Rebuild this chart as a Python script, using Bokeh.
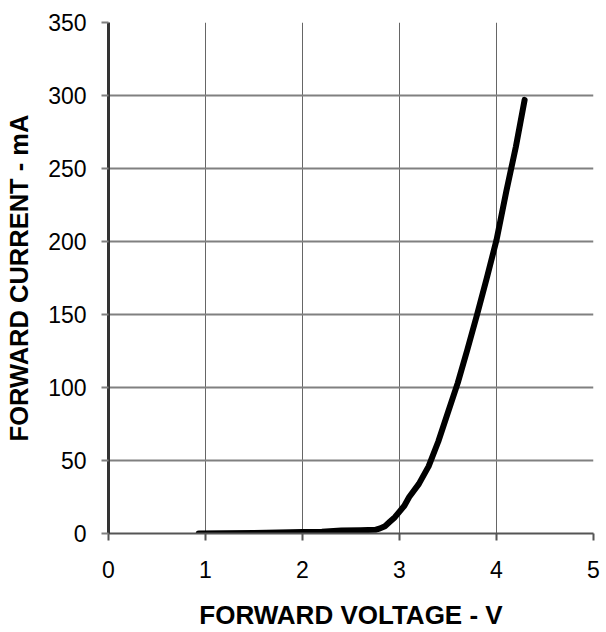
from bokeh.plotting import figure
from bokeh.models import FixedTicker, Range1d
from bokeh.embed import file_html
from bokeh.resources import INLINE

voltage = [0.93, 1.2, 1.5, 2.0, 2.2, 2.4, 2.6, 2.75, 2.8, 2.85, 2.9, 2.95, 3.0, 3.05, 3.1,
           3.2, 3.3, 3.4, 3.5, 3.6, 3.7, 3.8, 3.9, 4.0, 4.1, 4.2, 4.29]
current = [0.0, 0.2, 0.4, 1.0, 1.2, 2.0, 2.3, 2.5, 3.5, 5, 8, 11, 15, 19, 25,
           34, 46, 63, 83, 103, 126, 150, 175, 201, 234, 265, 297]
x_ticks = [0, 1, 2, 3, 4, 5]
y_ticks = [0, 50, 100, 150, 200, 250, 300, 350]

FONT = "Liberation Sans"

p = figure(width=604, height=632, output_backend="svg", toolbar_location=None,
           x_range=Range1d(0, 5), y_range=Range1d(0, 350),
           min_border_left=108, min_border_right=11, min_border_top=22, min_border_bottom=99)
p.outline_line_color = None
p.background_fill_color = "white"

p.line(voltage, current, line_width=6, line_color="black", line_cap="round", line_join="round")

p.xaxis.ticker = FixedTicker(ticks=x_ticks)
p.yaxis.ticker = FixedTicker(ticks=y_ticks)
p.xgrid.ticker = FixedTicker(ticks=x_ticks)
p.ygrid.ticker = FixedTicker(ticks=y_ticks)

p.xgrid.grid_line_color = "#666666"
p.xgrid.grid_line_width = 1
p.ygrid.grid_line_color = "#808080"
p.ygrid.grid_line_width = 2

for ax in (p.xaxis, p.yaxis):
    ax.minor_tick_line_color = None
    ax.major_tick_out = 7
    ax.major_tick_in = 0
    ax.major_label_text_font = FONT
    ax.major_label_text_font_size = "23px"
    ax.major_label_text_color = "black"
    ax.axis_label_text_font = FONT
    ax.axis_label_text_font_style = "bold"
    ax.axis_label_text_color = "black"

p.xaxis.axis_label_text_font_size = "26px"
p.yaxis.axis_label_text_font_size = "25.5px"

p.xaxis.axis_line_color = "#555555"
p.xaxis.axis_line_width = 2
p.xaxis.major_tick_line_color = "#555555"
p.xaxis.major_tick_line_width = 2
p.yaxis.axis_line_color = "#333333"
p.yaxis.axis_line_width = 3
p.yaxis.major_tick_line_color = "#808080"
p.yaxis.major_tick_line_width = 2

p.xaxis.axis_label = "FORWARD VOLTAGE - V"
p.yaxis.axis_label = "FORWARD CURRENT - mA"
p.xaxis.major_label_standoff = 20
p.yaxis.major_label_standoff = 15
p.xaxis.axis_label_standoff = 19
p.yaxis.axis_label_standoff = 12

open("out.html", "w").write(file_html(p, INLINE))
